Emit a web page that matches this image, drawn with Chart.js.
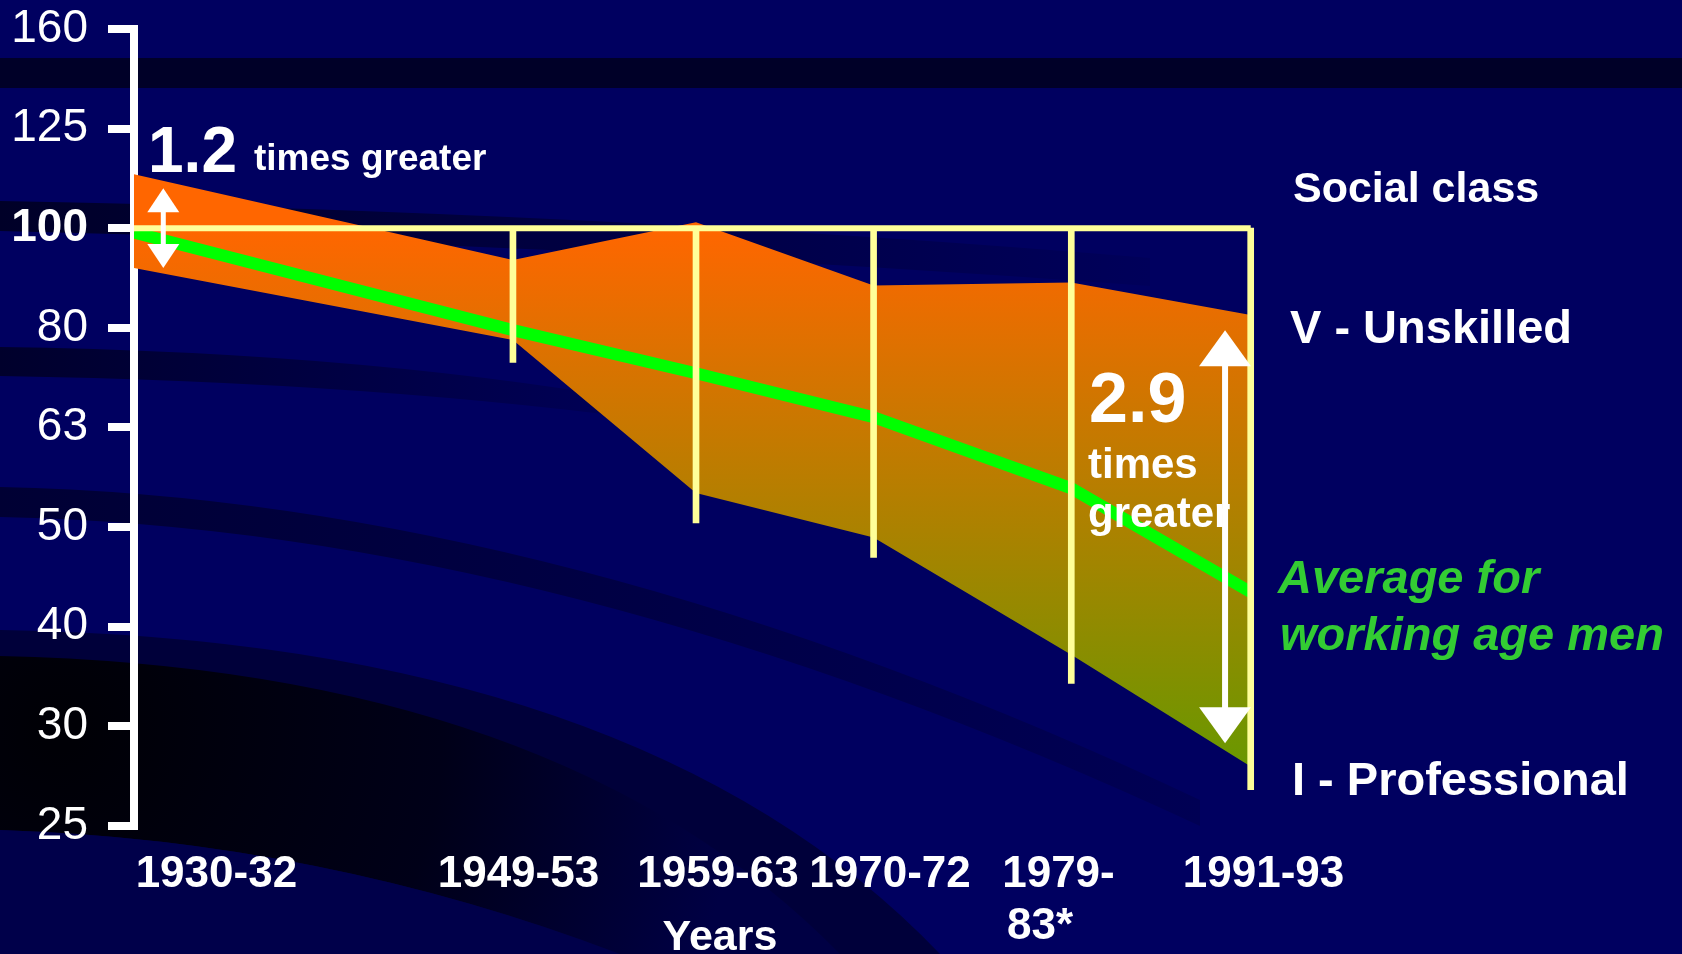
<!DOCTYPE html>
<html lang="en">
<head>
<meta charset="UTF-8">
<title>Mortality by social class</title>
<script src="https://cdn.jsdelivr.net/npm/chart.js"></script>
<style>
  body { margin: 0; background: #000060; overflow: hidden; }
  #wrap { width: 1682px; height: 954px; }
</style>
</head>
<body>
<div id="wrap"><canvas id="chart" width="1682" height="954"></canvas></div>
<script>
const periods = ['1930-32', '1949-53', '1959-63', '1970-72', ['1979-', '83*   '], '1991-93'];
const periodX = [1931, 1951.7, 1961.7, 1971.4, 1982.2, 1992];
const periodLabelX = [1935.5, 1952.0, 1962.9, 1972.3, 1981.5, 1992.7];
const classV = [113.3, 92.9, 101.4, 87.6, 88.2, 81.8];
const classI = [91.2, 77.2, 54.2, 48.9, 37.3, 28.8];
const average = [99, 79.0, 71.5, 64.6, 54.8, 43.1];
const dropBottom = [null, 73.3, 50.6, 46.7, 34.9, 27.3];
const yTicks = [158.5, 125.9, 100, 79.4, 63.1, 50.1, 39.8, 31.6, 25.1];
const yTickLabels = ['160', '125', '100', '80', '63', '50', '40', '30', '25'];
const arrowX = [1932.6, 1990.6];
const arrowTop = [109.7, 79.0];
const arrowBottom = [91.2, 30.4];

const FONT = "'Liberation Sans', Arial, sans-serif";

function points(ys) {
    return periodX.map((x, i) => ({ x: x, y: ys[i] }));
}

function bandFill(c) {
    const chart = c.chart;
    if (!chart.chartArea) return '#ff6600';
    const y = chart.scales.y;
    const g = chart.ctx.createLinearGradient(0, y.getPixelForValue(100), 0, y.getPixelForValue(28));
    g.addColorStop(0, '#ff6600');
    g.addColorStop(1, '#669900');
    return g;
}

// dark curved stripes of the slide background
const backdrop = {
    id: 'backdrop',
    beforeDraw(chart) {
        const ctx = chart.ctx;
        ctx.save();
        ctx.fillStyle = '#000060';
        ctx.fillRect(0, 0, chart.width, chart.height);

        ctx.fillStyle = '#000028';
        ctx.fillRect(0, 58, chart.width, 30);

        let g = ctx.createLinearGradient(0, 0, 1150, 0);
        g.addColorStop(0, '#000028');
        g.addColorStop(1, '#00005a');
        ctx.fillStyle = g;
        ctx.beginPath();
        ctx.moveTo(0, 201);
        ctx.quadraticCurveTo(600, 212, 1150, 258);
        ctx.lineTo(1150, 286);
        ctx.quadraticCurveTo(600, 245, 0, 231);
        ctx.closePath();
        ctx.fill();

        g = ctx.createLinearGradient(0, 0, 680, 0);
        g.addColorStop(0, '#00002c');
        g.addColorStop(1, '#00005a');
        ctx.fillStyle = g;
        ctx.beginPath();
        ctx.moveTo(0, 347);
        ctx.quadraticCurveTo(380, 352, 680, 408);
        ctx.lineTo(680, 424);
        ctx.quadraticCurveTo(380, 382, 0, 376);
        ctx.closePath();
        ctx.fill();

        g = ctx.createLinearGradient(0, 0, 1200, 0);
        g.addColorStop(0, '#000034');
        g.addColorStop(1, '#000054');
        ctx.fillStyle = g;
        ctx.beginPath();
        ctx.moveTo(0, 487);
        ctx.quadraticCurveTo(560, 498, 1200, 800);
        ctx.lineTo(1200, 826);
        ctx.quadraticCurveTo(560, 528, 0, 517);
        ctx.closePath();
        ctx.fill();

        ctx.fillStyle = '#00003a';
        ctx.beginPath();
        ctx.moveTo(0, 630);
        ctx.quadraticCurveTo(640, 640, 940, 954);
        ctx.lineTo(0, 954);
        ctx.closePath();
        ctx.fill();

        g = ctx.createRadialGradient(60, 730, 20, 60, 730, 680);
        g.addColorStop(0, '#000006');
        g.addColorStop(0.55, '#000018');
        g.addColorStop(1, '#000044');
        ctx.fillStyle = g;
        ctx.beginPath();
        ctx.moveTo(0, 656);
        ctx.quadraticCurveTo(560, 668, 840, 954);
        ctx.lineTo(620, 954);
        ctx.quadraticCurveTo(320, 840, 0, 830);
        ctx.closePath();
        ctx.fill();

        ctx.fillStyle = '#00004a';
        ctx.beginPath();
        ctx.moveTo(0, 830);
        ctx.quadraticCurveTo(320, 840, 620, 954);
        ctx.lineTo(0, 954);
        ctx.closePath();
        ctx.fill();
        ctx.restore();
    }
};

function drawArrow(ctx, x, y1, y2, shaft, headW, headH) {
    ctx.fillStyle = '#ffffff';
    ctx.fillRect(x - shaft / 2, y1 + headH - 1, shaft, y2 - y1 - 2 * headH + 2);
    ctx.beginPath();
    ctx.moveTo(x, y1);
    ctx.lineTo(x - headW / 2, y1 + headH);
    ctx.lineTo(x + headW / 2, y1 + headH);
    ctx.closePath();
    ctx.fill();
    ctx.beginPath();
    ctx.moveTo(x, y2);
    ctx.lineTo(x - headW / 2, y2 - headH);
    ctx.lineTo(x + headW / 2, y2 - headH);
    ctx.closePath();
    ctx.fill();
}

const notes = {
    id: 'notes',
    afterDatasetsDraw(chart) {
        const ctx = chart.ctx;
        const xs = chart.scales.x, ys = chart.scales.y;
        ctx.save();
        drawArrow(ctx, xs.getPixelForValue(arrowX[0]), ys.getPixelForValue(arrowTop[0]),
            ys.getPixelForValue(arrowBottom[0]), 5, 32, 24);
        drawArrow(ctx, xs.getPixelForValue(arrowX[1]), ys.getPixelForValue(arrowTop[1]),
            ys.getPixelForValue(arrowBottom[1]), 6, 52, 36);
        ctx.restore();
    },
    afterDraw(chart) {
        const ctx = chart.ctx;
        ctx.save();
        ctx.textBaseline = 'alphabetic';
        ctx.textAlign = 'left';
        ctx.fillStyle = '#ffffff';
        ctx.font = 'bold 64px ' + FONT;
        ctx.fillText('1.2', 148, 172);
        ctx.font = 'bold 37px ' + FONT;
        ctx.fillText('times greater', 254, 170);
        ctx.font = 'bold 70px ' + FONT;
        ctx.fillText('2.9', 1089, 422);
        ctx.font = 'bold 42px ' + FONT;
        ctx.fillText('times', 1088, 478);
        ctx.fillText('greater', 1088, 527);
        ctx.font = 'bold 43px ' + FONT;
        ctx.fillText('Social class', 1293, 202);
        ctx.font = 'bold 47px ' + FONT;
        ctx.fillText('V - Unskilled', 1290, 343);
        ctx.fillText('I - Professional', 1292, 795);
        ctx.fillStyle = '#33cc33';
        ctx.font = 'italic bold 47px ' + FONT;
        ctx.fillText('Average for', 1278, 593);
        ctx.fillText('working age men', 1280, 650);
        ctx.fillStyle = '#ffffff';
        ctx.font = 'bold 43px ' + FONT;
        ctx.textAlign = 'center';
        ctx.fillText('Years', 720, 950);
        ctx.restore();
    }
};

new Chart(document.getElementById('chart'), {
    type: 'line',
    data: {
        datasets: [
            {
                label: 'V - Unskilled',
                data: points(classV),
                borderWidth: 0,
                pointRadius: 0,
                fill: '+1',
                backgroundColor: bandFill,
                order: 5
            },
            {
                label: 'I - Professional',
                data: points(classI),
                borderWidth: 0,
                pointRadius: 0,
                fill: false,
                order: 4
            },
            {
                label: 'Average for working age men',
                data: points(average),
                borderColor: '#00ff00',
                borderWidth: 12,
                pointRadius: 0,
                fill: false,
                order: 2
            },
            {
                label: 'Reference 100',
                data: [{ x: periodX[0], y: 100 }, { x: periodX[periodX.length - 1], y: 100 }],
                borderColor: '#ffff99',
                borderWidth: 6,
                pointRadius: 0,
                fill: false,
                order: 1
            },
            {
                type: 'bar',
                label: 'Drop lines',
                data: periodX.map((x, i) => dropBottom[i] === null ? null : { x: x, y: [dropBottom[i], 100] }).filter(d => d),
                backgroundColor: '#ffff99',
                borderWidth: 0,
                barThickness: 6,
                order: 1
            }
        ]
    },
    options: {
        responsive: false,
        animation: false,
        layout: { padding: { left: 0, top: 29, right: 413, bottom: 0 } },
        plugins: {
            legend: { display: false },
            tooltip: { enabled: false }
        },
        scales: {
            x: {
                type: 'linear',
                offset: false,
                min: 1931,
                max: 1993,
                afterBuildTicks: s => { s.ticks = periodLabelX.map(v => ({ value: v })); },
                afterFit: s => {
                    s.height = 128;
                    s.paddingLeft = 0; s.paddingRight = 0; s.paddingTop = 0; s.paddingBottom = 0;
                },
                ticks: {
                    color: '#ffffff',
                    autoSkip: false,
                    maxRotation: 0,
                    padding: 14,
                    font: { family: FONT, size: 44, weight: 'bold' },
                    callback: (v, i) => periods[i]
                },
                grid: { display: false },
                border: { display: false }
            },
            y: {
                type: 'logarithmic',
                min: 25.1,
                max: 158.5,
                afterBuildTicks: s => { s.ticks = yTicks.map(v => ({ value: v })); },
                afterFit: s => {
                    s.width = 134;
                    s.paddingTop = 0; s.paddingBottom = 0; s.paddingLeft = 0; s.paddingRight = 0;
                },
                ticks: {
                    color: '#ffffff',
                    autoSkip: false,
                    padding: 20,
                    font: c => ({ family: FONT, size: 46, weight: c.tick && c.tick.value === 100 ? 'bold' : 'normal' }),
                    callback: (v, i) => yTickLabels[i]
                },
                grid: { drawOnChartArea: false, drawTicks: true, tickLength: 26, color: '#ffffff', lineWidth: 8 },
                border: { display: true, color: '#ffffff', width: 8 }
            }
        }
    },
    plugins: [backdrop, notes]
});
</script>
</body>
</html>
